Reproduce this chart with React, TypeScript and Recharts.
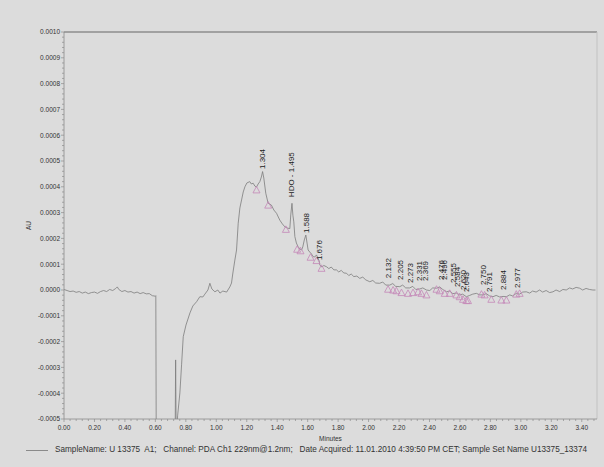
import React from 'react';
import { ComposedChart, Line, Scatter, XAxis, YAxis, ReferenceLine } from 'recharts';

// trace in minutes / micro-AU
const baselineTrace: [number, number][] = [
  [0, 2], [0.02, -2], [0.04, -6], [0.06, -4], [0.08, -9], [0.1, -6], [0.12, -12], [0.14, -8],
  [0.16, -14], [0.18, -10], [0.2, -8], [0.22, -13], [0.24, -6], [0.26, -2], [0.28, -6], [0.3, 2],
  [0.32, -2], [0.34, 6], [0.35, 12], [0.36, 2], [0.38, -6], [0.4, -2], [0.42, -8], [0.44, -6],
  [0.46, -12], [0.48, -8], [0.5, -14], [0.52, -10], [0.54, -15], [0.56, -14], [0.58, -22],
  [0.6, -24], [0.603, -22],
];
const dipTrace: [number, number][] = [
  [0.606, -650], [0.7, -650], [0.729, -650], [0.733, -271], [0.737, -600], [0.746, -488],
  [0.761, -399], [0.772, -290], [0.783, -181], [0.801, -136], [0.827, -89], [0.846, -62],
  [0.871, -45], [0.892, -26], [0.912, -27], [0.925, -16], [0.945, 0], [0.958, 26], [0.971, 4],
  [0.991, -7], [1.01, 0], [1.024, -12], [1.043, -4], [1.068, -8], [1.089, 12], [1.1, 27],
];
const mainPeakTrace: [number, number][] = [
  [1.109, 66], [1.122, 116], [1.133, 155], [1.144, 259], [1.155, 318], [1.166, 349], [1.177, 380],
  [1.188, 400], [1.201, 415], [1.22, 420], [1.23, 411], [1.242, 414], [1.253, 403], [1.264, 399],
  [1.275, 411], [1.286, 420], [1.296, 438], [1.304, 459], [1.312, 434], [1.325, 375], [1.34, 337],
  [1.362, 329], [1.378, 310], [1.396, 297], [1.404, 287], [1.417, 271], [1.434, 256], [1.45, 245],
  [1.467, 240], [1.483, 238], [1.489, 291], [1.497, 336], [1.503, 290], [1.509, 264], [1.516, 207],
  [1.526, 182], [1.537, 168], [1.549, 159], [1.56, 155], [1.568, 167], [1.578, 194], [1.588, 213],
  [1.596, 182], [1.603, 155], [1.614, 147], [1.625, 140], [1.636, 129], [1.647, 128], [1.658, 136],
  [1.667, 124], [1.676, 112], [1.68, 97], [1.693, 89], [1.706, 95], [1.724, 90], [1.739, 83],
];
const tailTrace: [number, number][] = [
  [1.755, 89], [1.772, 78], [1.789, 78], [1.804, 70], [1.821, 76], [1.837, 66], [1.855, 65],
  [1.87, 56], [1.886, 62], [1.903, 52], [1.923, 54], [1.942, 45], [1.962, 50], [1.982, 39],
  [2.008, 32], [2.028, 37], [2.047, 27], [2.073, 26], [2.093, 31], [2.113, 19], [2.139, 19],
  [2.159, 25], [2.178, 14], [2.205, 13], [2.224, 19], [2.244, 8], [2.27, 8], [2.29, 14], [2.31, 2],
  [2.336, 4], [2.356, 8], [2.38, 0], [2.402, -2], [2.421, 8], [2.446, 7], [2.467, 12], [2.487, 2],
  [2.511, -7], [2.533, -4], [2.553, -14], [2.577, -12], [2.598, -19], [2.618, -16], [2.642, -26],
  [2.664, -21], [2.684, -16], [2.708, -13], [2.73, -19], [2.751, -19], [2.772, -14], [2.795, -23],
  [2.817, -26], [2.838, -21], [2.861, -27], [2.883, -25], [2.905, -26], [2.927, -19], [2.946, -23],
  [2.97, -13], [2.992, -16], [3.012, -8], [3.036, -7], [3.058, -12], [3.077, -4], [3.1, -8],
  [3.123, 0], [3.143, -8], [3.166, -2], [3.189, -10], [3.211, -7], [3.231, 0], [3.255, -6],
  [3.276, 2], [3.298, 0], [3.32, 8], [3.34, 4], [3.363, 10], [3.386, 7], [3.406, 0], [3.428, 6],
  [3.451, 2], [3.473, 0], [3.49, 0],
];

// integration start/end markers
const markerPoints: [number, number][] = [
  [1.264, 388], [1.341, 329], [1.457, 235], [1.531, 158], [1.553, 152], [1.619, 127], [1.658, 114],
  [1.691, 84], [2.128, 3], [2.161, 0], [2.183, -3], [2.216, -10], [2.259, -13], [2.292, -10],
  [2.325, -7], [2.347, -13], [2.38, -19], [2.446, 3], [2.467, -3], [2.5, -13], [2.533, -13],
  [2.577, -19], [2.598, -26], [2.62, -36], [2.642, -41], [2.653, -41], [2.741, -16], [2.762, -19],
  [2.806, -36], [2.872, -39], [2.905, -39], [2.97, -16], [2.992, -13],
];

const peakNames = [
  '1.304', 'HDO - 1.495', '1.588', '1.676', '2.132', '2.205', '2.273', '2.331', '2.369', '2.476',
  '2.496', '2.555', '2.584', '2.620', '2.643', '2.750', '2.791', '2.884', '2.977',
];
const peakTimes = [
  1.304, 1.495, 1.588, 1.676, 2.132, 2.205, 2.273, 2.331, 2.369, 2.476, 2.496, 2.555, 2.584, 2.62,
  2.643, 2.75, 2.791, 2.884, 2.977,
];
const peakLabelBase = [469, 360, 221, 116, 46, 39, 27, 35, 35, 39, 39, 27, 12, 0, -8, 19, -8, 0, 8];

const xMajorTicks = [0, 0.2, 0.4, 0.6, 0.8, 1, 1.2, 1.4, 1.6, 1.8, 2, 2.2, 2.4, 2.6, 2.8, 3, 3.2, 3.4];
const yMajorTicks = [-500, -400, -300, -200, -100, 0, 100, 200, 300, 400, 500, 600, 700, 800, 900, 1000];

const xTicks: number[] = [];
for (let i = 0; i <= 87; i++) xTicks.push(Math.round(i * 4) / 100);
const yTicks: number[] = [];
for (let i = -25; i <= 50; i++) yTicks.push(i * 20);

const trace = [...baselineTrace, ...dipTrace, ...mainPeakTrace, ...tailTrace].map(([t, v]) => ({ t, v }));
const markers = markerPoints.map(([t, v]) => ({ t, v }));
const peaks = peakNames.map((name, i) => ({ t: peakTimes[i], v: peakLabelBase[i], name }));

const FONT = '"Liberation Sans", Arial, sans-serif';
const BG = '#dcdcdc';

const isMajorX = (v: number) => xMajorTicks.some((m) => Math.abs(m - v) < 1e-6);
const isMajorY = (v: number) => yMajorTicks.includes(v);

const XTick = (props: any) => {
  const { x, y, payload } = props;
  const major = isMajorX(payload.value);
  return (
    <g>
      <line x1={x} x2={x} y1={y} y2={y + (major ? 3 : 2)} stroke="#8c8c8c" strokeWidth={0.7} />
      {major && (
        <text x={x} y={y + 11} textAnchor="middle" fontSize={6.5} fill="#333" fontFamily={FONT}>
          {payload.value.toFixed(2)}
        </text>
      )}
    </g>
  );
};

const YTick = (props: any) => {
  const { x, y, payload } = props;
  const major = isMajorY(payload.value);
  return (
    <g>
      <line x1={x - (major ? 3 : 2)} x2={x} y1={y} y2={y} stroke="#8c8c8c" strokeWidth={0.7} />
      {major && (
        <text x={x - 4} y={y + 2.3} textAnchor="end" fontSize={6.5} fill="#333" fontFamily={FONT}>
          {(payload.value / 1e6).toFixed(4)}
        </text>
      )}
    </g>
  );
};

const Triangle = (props: any) => {
  const { cx, cy } = props;
  return (
    <polygon
      points={`${cx - 3.5},${cy + 3} ${cx + 3.5},${cy + 3} ${cx},${cy - 3.5}`}
      fill="none"
      stroke="#c486b8"
      strokeWidth={0.8}
    />
  );
};

const PeakLabel = (props: any) => {
  const { cx, cy, payload } = props;
  return (
    <text
      x={cx}
      y={cy}
      dy="0.35em"
      transform={`rotate(-90 ${cx} ${cy})`}
      textAnchor="start"
      fontSize={8}
      fill="#222"
      fontFamily={FONT}
    >
      {payload.name}
    </text>
  );
};

export default function App() {
  return (
    <div style={{ position: 'absolute', left: 0, top: 0, width: 604, height: 467, background: BG, overflow: 'hidden' }}>
      <ComposedChart width={604} height={467} margin={{ top: 32, right: 7, bottom: 18, left: 14 }}>
        <XAxis
          dataKey="t"
          type="number"
          domain={[0, 3.5]}
          ticks={xTicks}
          interval={0}
          allowDataOverflow
          height={30}
          tickSize={0}
          tickMargin={0}
          tickLine={false}
          tick={<XTick />}
          axisLine={{ stroke: '#8c8c8c', strokeWidth: 0.8 }}
          label={{
            content: ({ viewBox }: any) => (
              <text
                x={viewBox.x + viewBox.width / 2}
                y={viewBox.y + 22}
                textAnchor="middle"
                fontSize={6.5}
                fill="#333"
                fontFamily={FONT}
              >
                Minutes
              </text>
            ),
          }}
        />
        <YAxis
          dataKey="v"
          type="number"
          domain={[-500, 1000]}
          ticks={yTicks}
          interval={0}
          allowDataOverflow
          width={50}
          tickSize={0}
          tickMargin={0}
          tickLine={false}
          tick={<YTick />}
          axisLine={{ stroke: '#8c8c8c', strokeWidth: 0.8 }}
          label={{
            content: ({ viewBox }: any) => {
              const cx = viewBox.x + 15;
              const cy = viewBox.y + viewBox.height / 2;
              return (
                <text
                  x={cx}
                  y={cy}
                  dy="0.35em"
                  transform={`rotate(-90 ${cx} ${cy})`}
                  textAnchor="middle"
                  fontSize={6.5}
                  fill="#333"
                  fontFamily={FONT}
                >
                  AU
                </text>
              );
            },
          }}
        />
        <ReferenceLine y={1000} stroke="#8e8e8e" strokeWidth={1.4} />
        <ReferenceLine x={3.5} stroke="#c2c2c2" strokeWidth={1} />
        <Line
          data={trace}
          dataKey="v"
          type="linear"
          stroke="#7c7c7c"
          strokeWidth={0.8}
          dot={false}
          isAnimationActive={false}
        />
        <Scatter data={markers} dataKey="v" shape={<Triangle />} isAnimationActive={false} />
        <Scatter data={peaks} dataKey="v" shape={<PeakLabel />} isAnimationActive={false} />
      </ComposedChart>
      <div
        style={{
          position: 'absolute',
          left: 26,
          top: 444,
          display: 'flex',
          alignItems: 'center',
          fontFamily: FONT,
          fontSize: 8.2,
          color: '#333',
          whiteSpace: 'pre',
          lineHeight: '12px',
        }}
      >
        <span style={{ display: 'inline-block', width: 22, height: 0, borderTop: '1px solid #8a8a8a', marginRight: 7 }} />
        <span>SampleName: U 13375  A1;   Channel: PDA Ch1 229nm@1.2nm;   Date Acquired: 11.01.2010 4:39:50 PM CET; Sample Set Name U13375_13374</span>
      </div>
    </div>
  );
}
